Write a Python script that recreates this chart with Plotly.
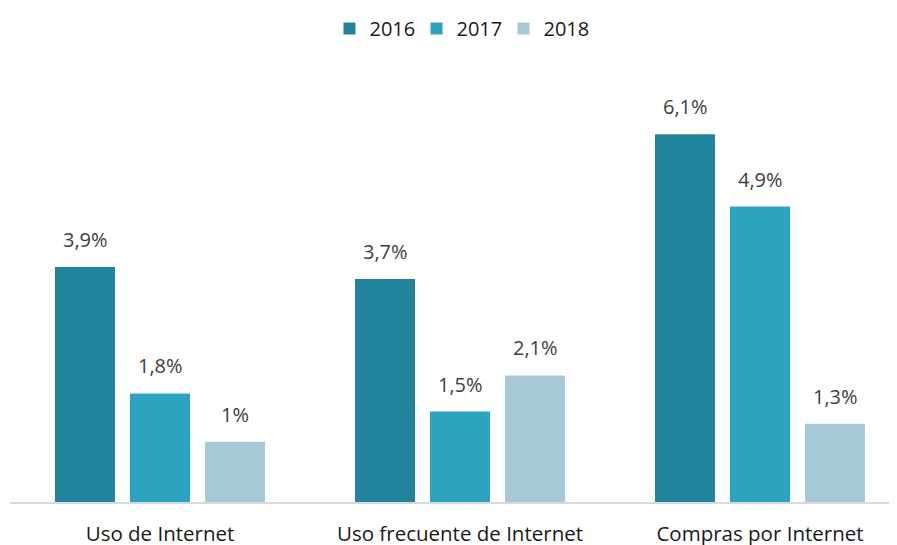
import plotly.graph_objects as go

categories = ["Uso de Internet", "Uso frecuente de Internet", "Compras por Internet"]
years = ["2016", "2017", "2018"]
values_2016 = [3.9, 3.7, 6.1]
values_2017 = [1.8, 1.5, 4.9]
values_2018 = [1.0, 2.1, 1.3]
labels_2016 = ["3,9%", "3,7%", "6,1%"]
labels_2017 = ["1,8%", "1,5%", "4,9%"]
labels_2018 = ["1%", "2,1%", "1,3%"]

colors = ["#22849C", "#2CA3BF", "#A6C9D8"]
series = [values_2016, values_2017, values_2018]
series_labels = [labels_2016, labels_2017, labels_2018]
offsets = [-75, 0, 75]

FONT = "Open Sans"

fig = go.Figure()
for name, vals, col in zip(years, series, colors):
    fig.add_trace(go.Bar(x=categories, y=vals, name=name, marker_color=col,
                         marker_line_width=0, hoverinfo="skip"))

annotations = []
for vals, labs, off in zip(series, series_labels, offsets):
    for c, v, t in zip(categories, vals, labs):
        annotations.append(dict(x=c, y=v, xref="x", yref="y", text=t, showarrow=False,
                                xshift=off, yanchor="bottom", yshift=12,
                                font=dict(family=FONT, size=20, color="#404040")))

fig.update_layout(
    width=897, height=545,
    margin=dict(l=2, r=8, t=72, b=51),
    paper_bgcolor="white", plot_bgcolor="white",
    barmode="group", bargap=0.25, bargroupgap=0.2,
    font=dict(family=FONT, size=20, color="#404040"),
    legend=dict(orientation="h", x=452 / 897, xanchor="center", xref="container",
                y=1 - 20.5 / 545, yanchor="middle", yref="container",
                font=dict(family=FONT, size=20, color="#1a1a1a"),
                entrywidth=42, entrywidthmode="pixels",
                traceorder="normal"),
    xaxis=dict(range=[-0.5, -0.5 + 887 / 300], showgrid=False, showline=True,
               linecolor="#d9d9d9", linewidth=2, ticks="outside", ticklen=12,
               tickcolor="rgba(0,0,0,0)",
               tickfont=dict(family=FONT, size=20.5, color="#1a1a1a")),
    yaxis=dict(range=[0, 7], visible=False),
    annotations=annotations,
)

fig.write_html("out.html")
